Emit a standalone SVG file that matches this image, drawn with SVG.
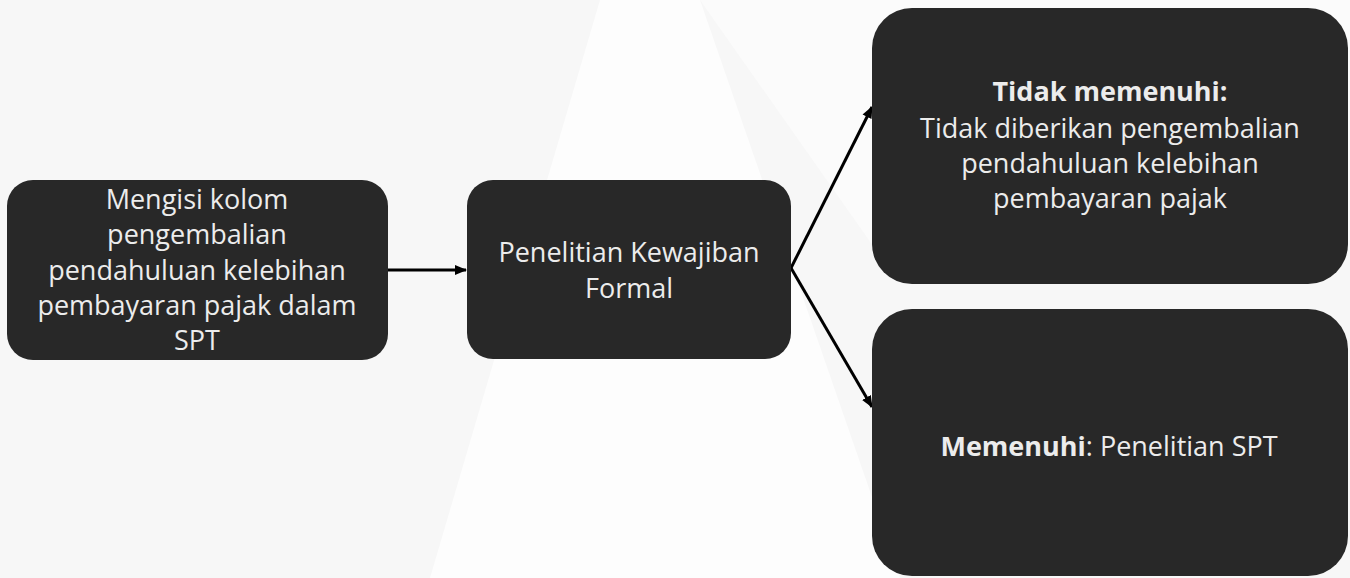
<svg xmlns="http://www.w3.org/2000/svg" width="1350" height="578" viewBox="0 0 1350 578">
<style>
.node{fill:#282828;}
.t{font-family:"Open Sans","Noto Sans",sans-serif;font-size:27px;fill:#ececec;text-anchor:middle;}
.b{font-weight:700;}
.edge{stroke:#000;stroke-width:3;fill:none;}
</style>
<defs>
<marker id="ah" markerWidth="14" markerHeight="14" refX="11" refY="6" orient="auto" markerUnits="userSpaceOnUse">
<path d="M0,1 L12,6 L0,11 Z" fill="#000"/>
</marker>
</defs>
<rect width="1350" height="578" fill="#f7f7f7"/>
<polygon points="600,0 700,0 900,578 430,578" fill="#fdfdfd"/>
<polygon points="700,0 1350,0 1350,260 890,270" fill="#fbfbfb"/>
<g id="connectors">
<line class="edge" x1="388" y1="270" x2="466" y2="270" marker-end="url(#ah)"/>
<line class="edge" x1="791" y1="268" x2="872" y2="107" marker-end="url(#ah)"/>
<line class="edge" x1="791" y1="268" x2="872" y2="407" marker-end="url(#ah)"/>
</g>
<g id="n1">
<rect class="node" x="7" y="180" width="381" height="180" rx="26"/>
<text class="t" x="197" y="209">Mengisi kolom</text>
<text class="t" x="197" y="244">pengembalian</text>
<text class="t" x="197" y="280">pendahuluan kelebihan</text>
<text class="t" x="197" y="315">pembayaran pajak dalam</text>
<text class="t" x="197" y="350">SPT</text>
</g>
<g id="n2">
<rect class="node" x="467" y="180" width="324" height="179" rx="26"/>
<text class="t" x="629" y="262">Penelitian Kewajiban</text>
<text class="t" x="629" y="298">Formal</text>
</g>
<g id="n3">
<rect class="node" x="872" y="8" width="476" height="276" rx="40"/>
<text class="t b" x="1110" y="101">Tidak memenuhi:</text>
<text class="t" x="1110" y="138">Tidak diberikan pengembalian</text>
<text class="t" x="1110" y="173">pendahuluan kelebihan</text>
<text class="t" x="1110" y="208">pembayaran pajak</text>
</g>
<g id="n4">
<rect class="node" x="872" y="309" width="476" height="267" rx="40"/>
<text class="t" x="1109" y="456"><tspan class="b">Memenuhi</tspan>: Penelitian SPT</text>
</g>
</svg>
